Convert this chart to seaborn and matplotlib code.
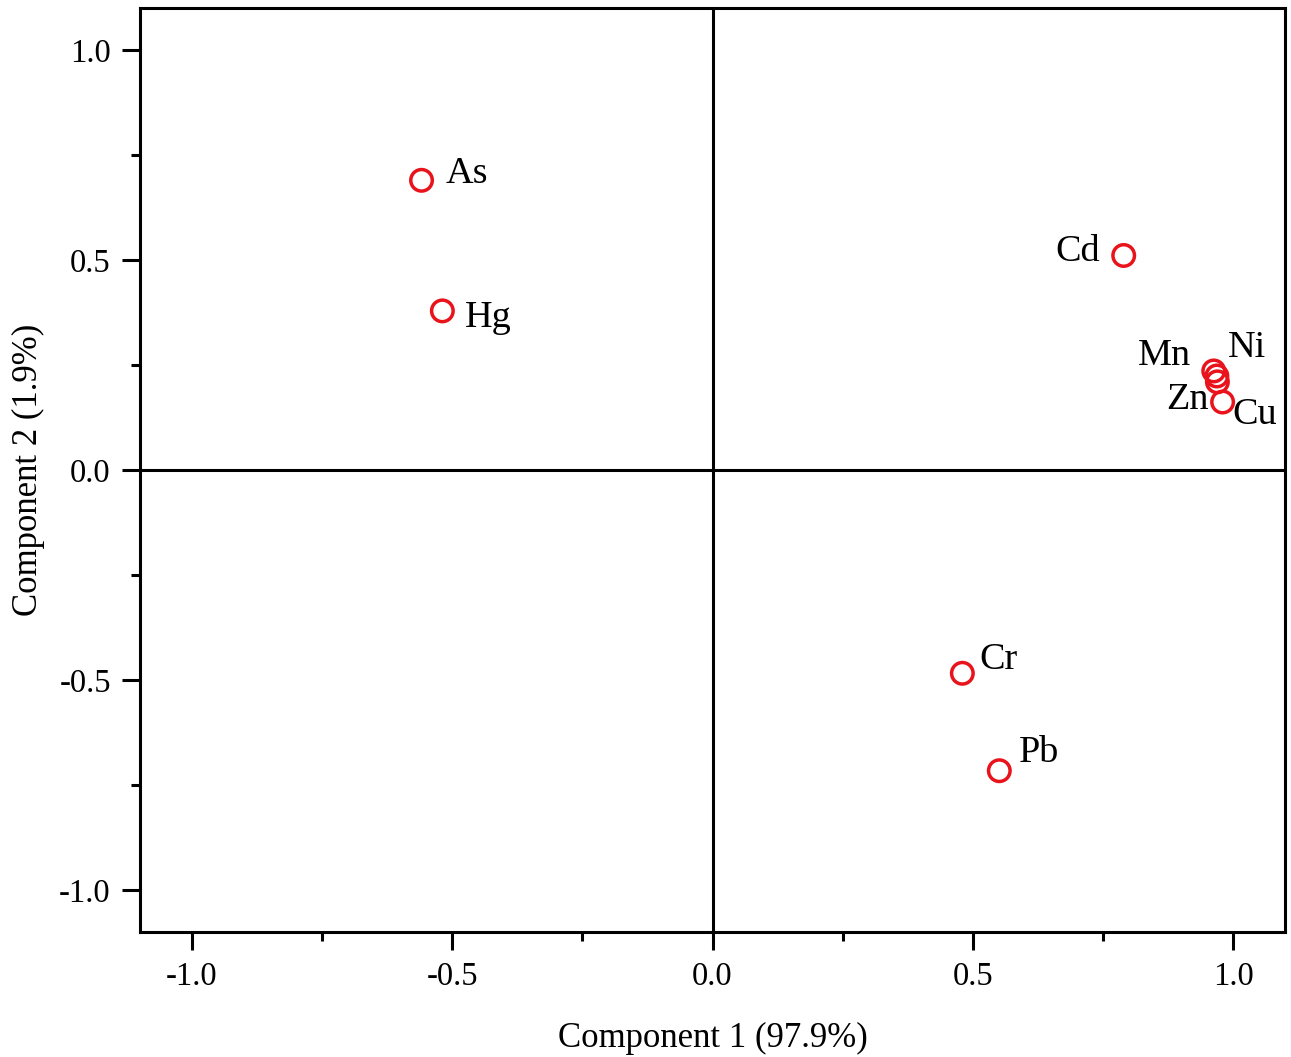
import pandas as pd
import seaborn as sns
import matplotlib.pyplot as plt
from matplotlib.ticker import MultipleLocator

# Cargas de los componentes principales
elements = ['As', 'Hg', 'Cd', 'Mn', 'Ni', 'Zn', 'Cu', 'Cr', 'Pb']
comp1 = [-0.559, -0.519, 0.790, 0.963, 0.969, 0.970, 0.980, 0.480, 0.551]
comp2 = [0.690, 0.379, 0.511, 0.236, 0.224, 0.210, 0.162, -0.484, -0.716]

# desplazamiento de cada etiqueta (en puntos) y alineacion
label_offsets = {
    'As': (17, 5, 'left'), 'Hg': (16, -5, 'left'), 'Cd': (-17, 3, 'right'),
    'Mn': (-16, 11, 'right'), 'Ni': (8, 20, 'left'), 'Zn': (-6, -13, 'right'),
    'Cu': (7, -9, 'left'), 'Cr': (12, 10, 'left'), 'Pb': (14, 13, 'left'),
}

df = pd.DataFrame({'element': elements, 'PC1': comp1, 'PC2': comp2})

sns.set_style('ticks')
plt.rcParams['font.family'] = ['Liberation Serif', 'DejaVu Serif']
plt.rcParams['text.color'] = 'black'
plt.rcParams['axes.labelcolor'] = 'black'
plt.rcParams['xtick.color'] = 'black'
plt.rcParams['ytick.color'] = 'black'
plt.rcParams['axes.edgecolor'] = 'black'

fig = plt.figure(figsize=(12.91, 10.57), dpi=100)
ax = fig.add_axes([0.1084, 0.1183, 0.887, 0.874])

ax.axhline(0, color='black', lw=2.2, zorder=1)
ax.axvline(0, color='black', lw=2.2, zorder=1)

sns.scatterplot(data=df, x='PC1', y='PC2', ax=ax, marker='o', s=240,
                facecolors='none', edgecolors='#e8131b', linewidth=2.5, zorder=3)

for _, row in df.iterrows():
    dx, dy, ha = label_offsets[row['element']]
    ax.annotate(row['element'], (row['PC1'], row['PC2']), xytext=(dx, dy),
                textcoords='offset points', ha=ha, va='center', fontsize=27.5)

ax.set_xlim(-1.1, 1.1)
ax.set_ylim(-1.1, 1.1)
ax.xaxis.set_major_locator(MultipleLocator(0.5))
ax.yaxis.set_major_locator(MultipleLocator(0.5))
ax.xaxis.set_minor_locator(MultipleLocator(0.25))
ax.yaxis.set_minor_locator(MultipleLocator(0.25))
ax.xaxis.set_major_formatter(plt.FormatStrFormatter('%.1f'))
ax.yaxis.set_major_formatter(plt.FormatStrFormatter('%.1f'))
ax.tick_params(which='major', direction='out', length=13, width=2.2, labelsize=23.5, pad=8)
ax.tick_params(which='minor', direction='out', length=6.5, width=2.2)
for sp in ax.spines.values():
    sp.set_linewidth(2.2)
    sp.set_visible(True)

ax.set_xlabel('Component 1 (97.9%)', fontsize=25, labelpad=22)
ax.set_ylabel('Component 2 (1.9%)', fontsize=25, labelpad=10)

plt.savefig('out.png', dpi=100)
